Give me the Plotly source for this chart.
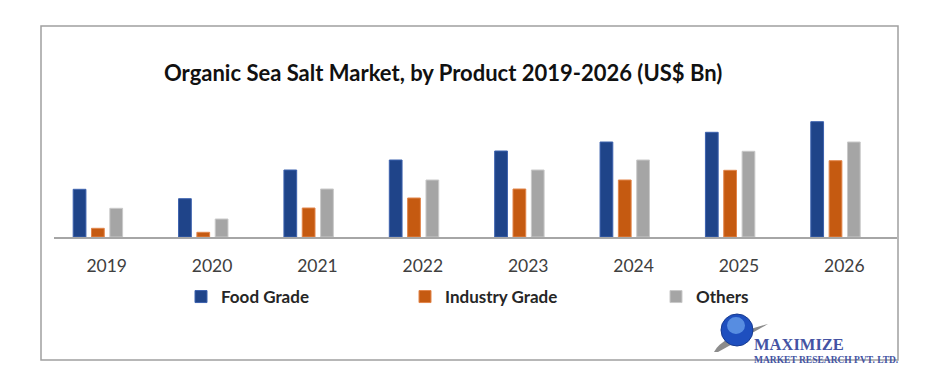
import plotly.graph_objects as go

years = ["2019", "2020", "2021", "2022", "2023", "2024", "2025", "2026"]
food_grade = [4.77, 3.83, 6.7, 7.7, 8.6, 9.5, 10.47, 11.53]
industry_grade = [0.87, 0.47, 2.9, 3.9, 4.8, 5.7, 6.67, 7.63]
others = [2.87, 1.8, 4.8, 5.7, 6.7, 7.7, 8.57, 9.5]

# page body has an 8px margin; figure sized to fill the window exactly
OFF = 8
W, H = 940 - 2 * OFF, 392 - 2 * OFF
# plot area in window pixels: x 54..897, y 100..237
ML = 54 - OFF
MR = W - (897 - OFF)
MT = 100 - OFF
MB = H - (237 - OFF)
PW, PH = W - ML - MR, H - MT - MB


def px(x):  # window pixel -> paper x
    return (x - OFF - ML) / PW


def py(y):  # window pixel -> paper y
    return (H - MB - (y - OFF)) / PH


fig = go.Figure()
series = [
    ("Food Grade", food_grade, "#1F4489", "#3D62AE", -0.318, "legend", 221),
    ("Industry Grade", industry_grade, "#C55A11", "#E2854A", -0.144, "legend2", 445),
    ("Others", others, "#A5A5A5", "#C9C9C9", 0.030, "legend3", 696),
]
legend_common = dict(orientation="h", yanchor="middle", y=py(297), xanchor="left",
                     font=dict(family="Lato", size=17, color="#262626", weight="bold"),
                     bgcolor="rgba(0,0,0,0)", borderwidth=0)
legends = {}
for name, vals, col, edge, off, lg, txt_x in series:
    fig.add_trace(go.Bar(
        x=years, y=vals, name=name, offset=off, width=0.121,
        marker=dict(color=col, line=dict(color=edge, width=1)),
        legend=lg, hoverinfo="x+y+name",
    ))
    legends[lg] = dict(x=px(txt_x - 40), **legend_common)

fig.update_layout(
    width=W, height=H,
    margin=dict(l=ML, r=MR, t=MT, b=MB, pad=0),
    paper_bgcolor="white", plot_bgcolor="white",
    barmode="overlay",
    showlegend=True,
    **legends,
    xaxis=dict(type="category", showgrid=False, zeroline=False,
               showline=True, linecolor="#A6A6A6", linewidth=1.5,
               ticks="outside", ticklen=12, tickcolor="rgba(0,0,0,0)",
               tickfont=dict(family="Lato", size=17.5, color="#404040"),
               fixedrange=True),
    yaxis=dict(range=[0, 13.7], visible=False, fixedrange=True),
    font=dict(family="Lato"),
    annotations=[
        dict(text="<b>Organic Sea Salt Market, by Product 2019-2026 (US$ Bn)</b>",
             xref="paper", yref="paper", x=px(443), y=py(73),
             xanchor="center", yanchor="middle", showarrow=False,
             font=dict(family="Lato", size=22, color="#111111")),
        dict(text=("<b><span style='font-size:16.5px'>MAXIMIZE</span></b><br>"
                   "<b><span style='font-size:9.5px'>MARKET RESEARCH PVT. LTD.</span></b>"),
             xref="paper", yref="paper", x=px(752), y=py(350),
             xanchor="left", yanchor="middle", align="left", showarrow=False,
             font=dict(family="Liberation Serif", size=9.8, color="#4453A3")),
    ],
    shapes=[
        dict(type="rect", xref="paper", yref="paper",
             x0=px(41), x1=px(898), y0=py(360), y1=py(26),
             line=dict(color="#A0A0A0", width=1.5), fillcolor="rgba(0,0,0,0)", layer="below"),
        # logo swoosh
        dict(type="path", xref="paper", yref="paper",
             path=(f"M {px(714)},{py(352)} Q {px(722)},{py(336)} {px(768)},{py(324)} "
                   f"Q {px(738)},{py(341)} {px(718)},{py(352)} Z"),
             fillcolor="#8C8C8C", line=dict(width=0)),
        # logo globe
        dict(type="circle", xref="paper", yref="paper",
             x0=px(721), x1=px(753), y0=py(346), y1=py(314),
             fillcolor="#1E4FBF", line=dict(color="#163A90", width=1)),
        dict(type="circle", xref="paper", yref="paper",
             x0=px(727), x1=px(745), y0=py(334), y1=py(317),
             fillcolor="#6FA8F0", line=dict(width=0), opacity=0.7),
    ],
)

fig.write_html("out.html")
